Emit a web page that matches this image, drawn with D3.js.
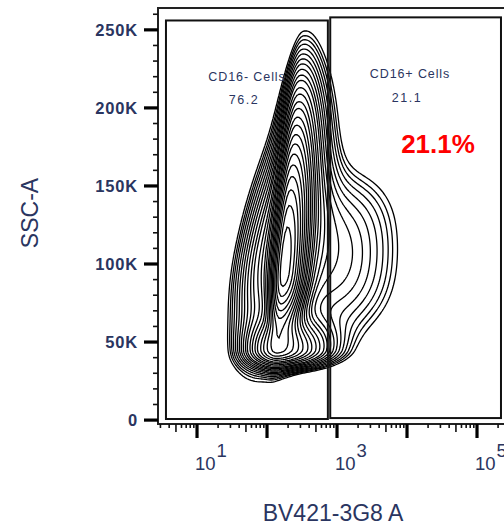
<!DOCTYPE html>
<html>
<head>
<meta charset="utf-8">
<script src="https://cdn.jsdelivr.net/npm/d3@7"></script>
<style>
body { margin: 0; background: #fff; }
text { font-family: "Liberation Sans", Arial, sans-serif; }
</style>
</head>
<body>
<svg id="chart" width="504" height="527"></svg>
<script>
// y axis (SSC-A, linear)
var sscTicks = [0, 50000, 100000, 150000, 200000, 250000];
var sscTickLabels = ["0", "50K", "100K", "150K", "200K", "250K"];
// x axis (BV421-3G8 A, log decades)
var cd16Decades = [1, 2, 3, 4, 5];
var cd16Labelled = [1, 3, 5];

// gates
var gateNames = ["CD16- Cells", "CD16+ Cells"];
var gateFreqs = ["76.2", "21.1"];
var gateXLo = [3.6, 800];
var gateXHi = [740, 220000];
var gateYLo = [700, 1300];
var gateYHi = [256000, 258000];
var highlight = "21.1%";

// population: centre (log10 CD16, SSC), split spreads, tilt, weight
// ridge, body, bottom lobe, top cap, CD16+ shoulder (low, high)
var compLog    = [2.24, 2.22, 2.16, 2.45, 2.95, 2.95];
var compSsc    = [95000, 110000, 45000, 190000, 85000, 125000];
var compSdL    = [0.10, 0.32, 0.25, 0.18, 0.50, 0.45];   // decades, left side
var compSdR    = [0.17, 0.30, 0.42, 0.22, 0.58, 0.58];   // decades, right side
var compSdLo   = [22000, 40000, 6500, 40000, 25000, 25000];
var compSdHi   = [52000, 50000, 12000, 30000, 25000, 25000];
var compShear  = [0.18, 0.45, 0.15, 0.20, 0.20, 0.30];   // decades per 100K SSC
var compW      = [1.0, 0.22, 0.35, 0.07, 0.06, 0.06];

// contour levels, fraction of the peak density
var levels = [0.02, 0.024, 0.028, 0.033, 0.039, 0.046, 0.054, 0.063, 0.074, 0.087,
              0.1, 0.12, 0.14, 0.165, 0.19, 0.225, 0.26, 0.305, 0.355, 0.415,
              0.485, 0.565, 0.66, 0.77, 0.9];

var ink = "#2a3560";
var svg = d3.select("#chart");

var x = d3.scaleLog().domain([2.77, 243000]).range([158, 504]);
var y = d3.scaleLinear().domain([-2500, 264000]).range([424, 8]);

// ---- contours
var step = 2;
var gx0 = 158, gy0 = 8;
var nx = Math.ceil((504 - gx0) / step), ny = Math.ceil((424 - gy0) / step);
var values = new Float64Array(nx * ny), vmax = 0;
for (var j = 0; j < ny; j++) {
    var s = y.invert(gy0 + (j + 0.5) * step);
    for (var i = 0; i < nx; i++) {
        var lx = Math.log10(x.invert(gx0 + (i + 0.5) * step));
        var v = 0;
        for (var k = 0; k < compW.length; k++) {
            var ds = s - compSsc[k];
            var dy = ds / (ds < 0 ? compSdLo[k] : compSdHi[k]);
            var dl = lx - (compLog[k] + compShear[k] * ds / 100000);
            var dx = dl / (dl < 0 ? compSdL[k] : compSdR[k]);
            v += compW[k] * Math.exp(-0.5 * (dx * dx + dy * dy));
        }
        values[j * nx + i] = v;
        if (v > vmax) vmax = v;
    }
}
var contours = d3.contours().size([nx, ny])
    .thresholds(levels.map(function(l) { return l * vmax; }))(values);
var path = d3.geoPath(d3.geoIdentity().scale(step).translate([gx0, gy0]));

svg.append("g").selectAll("path").data(contours).enter().append("path")
    .attr("d", path)
    .attr("fill", "none")
    .attr("stroke", "#000")
    .attr("stroke-width", 1.3);

// ---- frame
svg.append("path")
    .attr("d", "M520," + y(264000) + "H" + x(2.77) + "V" + y(-2500) + "H520")
    .attr("fill", "none").attr("stroke", "#222").attr("stroke-width", 2);

// ---- gates
var gates = svg.append("g");
gateNames.forEach(function(name, g) {
    gates.append("rect")
        .attr("x", x(gateXLo[g])).attr("y", y(gateYHi[g]))
        .attr("width", x(gateXHi[g]) - x(gateXLo[g]))
        .attr("height", y(gateYLo[g]) - y(gateYHi[g]))
        .attr("fill", "none").attr("stroke", "#111").attr("stroke-width", 2);
});
// gate labels
var labelCx = [247, 410];
var labelSsc = [[217000, 202500], [219000, 204000]];
gateNames.forEach(function(name, g) {
    gates.append("text").attr("x", labelCx[g]).attr("y", y(labelSsc[g][0]))
        .attr("text-anchor", "middle").attr("font-size", 12.5)
        .attr("letter-spacing", 0.9).attr("fill", ink).text(name);
    gates.append("text").attr("x", labelCx[g] - 3).attr("y", y(labelSsc[g][1]))
        .attr("text-anchor", "middle").attr("font-size", 12.5)
        .attr("letter-spacing", 1.6).attr("fill", ink).text(gateFreqs[g]);
});
svg.append("text").attr("x", 438).attr("y", 153)
    .attr("text-anchor", "middle").attr("font-size", 26).attr("font-weight", "bold")
    .attr("fill", "#ff0000").text(highlight);

// ---- y axis
var yMinor = d3.range(0, 264001, 10000).filter(function(d) { return d % 50000 !== 0; });
var yAxis = svg.append("g").attr("transform", "translate(158,0)");
yAxis.selectAll("line.minor").data(yMinor).enter().append("line")
    .attr("x1", -5).attr("x2", 0)
    .attr("y1", function(d) { return y(d); }).attr("y2", function(d) { return y(d); })
    .attr("stroke", "#111").attr("stroke-width", 1.6);
yAxis.selectAll("line.major").data(sscTicks).enter().append("line")
    .attr("x1", -14).attr("x2", 0)
    .attr("y1", function(d) { return y(d); }).attr("y2", function(d) { return y(d); })
    .attr("stroke", "#000").attr("stroke-width", 3.2);
yAxis.selectAll("text").data(sscTicks).enter().append("text")
    .attr("x", -20).attr("y", function(d) { return y(d); })
    .attr("dy", "0.36em").attr("text-anchor", "end")
    .attr("font-size", 16.5).attr("font-weight", "bold").attr("letter-spacing", 0.8)
    .attr("fill", ink)
    .text(function(d, i) { return sscTickLabels[i]; });

// ---- x axis
var xMinor = [];
[0, 1, 2, 3, 4, 5].forEach(function(d) {
    for (var m = 2; m < 10; m++) {
        var val = m * Math.pow(10, d);
        if (val > x.domain()[0] && val < x.domain()[1]) xMinor.push(val);
    }
});
var xAxis = svg.append("g").attr("transform", "translate(0,424)");
xAxis.selectAll("line.minor").data(xMinor).enter().append("line")
    .attr("x1", function(d) { return x(d); }).attr("x2", function(d) { return x(d); })
    .attr("y1", 0).attr("y2", function(d) { return String(d)[0] === "5" ? 8 : 4; })
    .attr("stroke", "#111").attr("stroke-width", 1.6);
xAxis.selectAll("line.major").data(cd16Decades).enter().append("line")
    .attr("x1", function(d) { return x(Math.pow(10, d)); })
    .attr("x2", function(d) { return x(Math.pow(10, d)); })
    .attr("y1", 0).attr("y2", 14)
    .attr("stroke", "#000").attr("stroke-width", 3.2);
var xl = xAxis.selectAll("text").data(cd16Labelled).enter().append("text")
    .attr("x", function(d) { return x(Math.pow(10, d)) - 2; })
    .attr("y", 46)
    .attr("font-size", 18.5).attr("fill", ink);
xl.append("tspan").text("10");
xl.append("tspan").attr("dy", -13).attr("dx", 1).text(function(d) { return d; });

// ---- axis titles
svg.append("text").attr("transform", "translate(38,213) rotate(-90)")
    .attr("text-anchor", "middle").attr("font-size", 23).attr("fill", ink)
    .text("SSC-A");
svg.append("text").attr("x", 333).attr("y", 521)
    .attr("text-anchor", "middle").attr("font-size", 23).attr("fill", ink)
    .text("BV421-3G8 A");
</script>
</body>
</html>
